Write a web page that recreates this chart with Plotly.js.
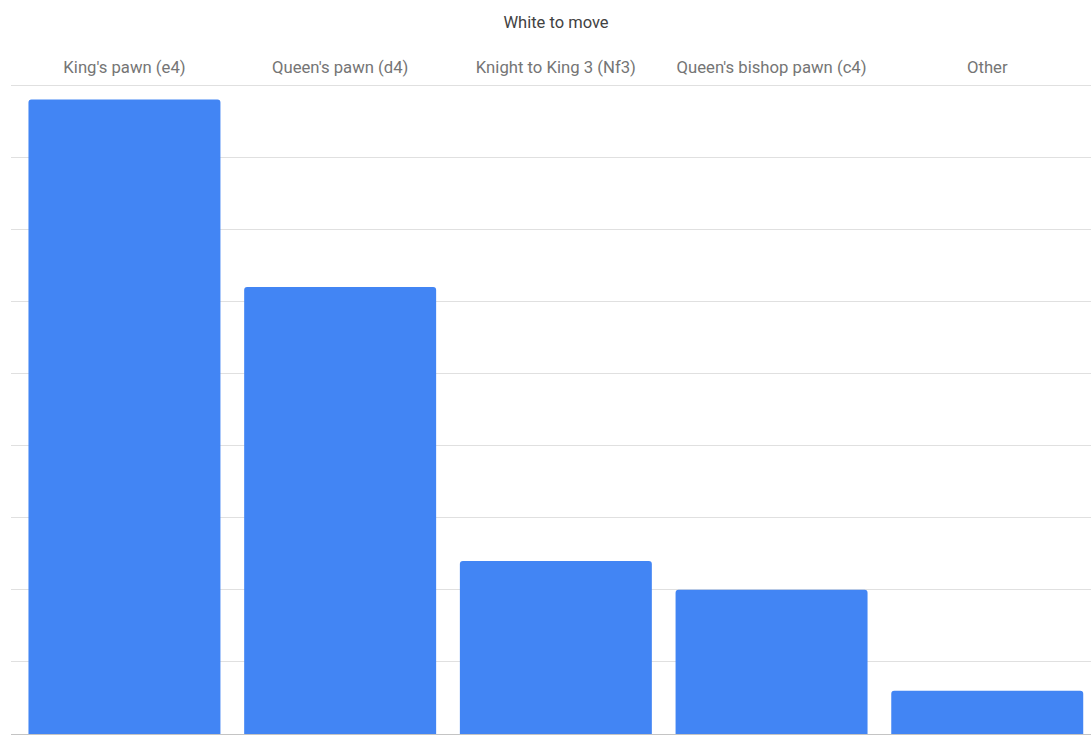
<!DOCTYPE html>
<html>
<head>
<meta charset="utf-8">
<script src="https://cdn.plot.ly/plotly-3.0.1.min.js"></script>
<style>
  html, body { margin: 0; padding: 0; background: #ffffff; }
  #chart { width: 1091px; height: 735px; }
</style>
</head>
<body>
<div id="chart"></div>
<script>
// First-move choices for White and their share of games (%)
const openings = ["King's pawn (e4)", "Queen's pawn (d4)", "Knight to King 3 (Nf3)", "Queen's bishop pawn (c4)", "Other"];
const sharePct = [44, 31, 12, 10, 3];

const trace = {
  type: 'bar',
  x: openings,
  y: sharePct,
  marker: { color: '#4285f4', cornerradius: 3 },
  hoverinfo: 'x+y'
};

const layout = {
  width: 1091,
  height: 735,
  margin: { l: 11, r: 0, t: 84, b: 1 },
  paper_bgcolor: '#ffffff',
  plot_bgcolor: '#ffffff',
  font: { family: 'Roboto, sans-serif', color: '#757575', size: 16.7 },
  title: {
    text: 'White to move',
    font: { family: 'Roboto, sans-serif', size: 16.5, color: '#424242' },
    x: 556 / 1091, xanchor: 'center',
    y: 1 - 22.5 / 735, yref: 'container', yanchor: 'middle'
  },
  bargap: 0.11,
  showlegend: false,
  xaxis: {
    type: 'category',
    side: 'top',
    range: [-0.526, 4.481],
    showgrid: false,
    showline: false,
    zeroline: false,
    ticks: '',
    ticklabelstandoff: 7,
    tickfont: { family: 'Roboto, sans-serif', size: 16.7, color: '#757575' }
  },
  yaxis: {
    range: [0, 45.08],
    tick0: 0,
    dtick: 5,
    showticklabels: false,
    ticks: '',
    showgrid: true,
    gridcolor: '#e0e0e0',
    gridwidth: 1,
    zeroline: true,
    zerolinecolor: '#c4c4c4',
    zerolinewidth: 1,
    showline: false
  }
};

Plotly.newPlot('chart', [trace], layout, { displayModeBar: false, staticPlot: true });
</script>
</body>
</html>
